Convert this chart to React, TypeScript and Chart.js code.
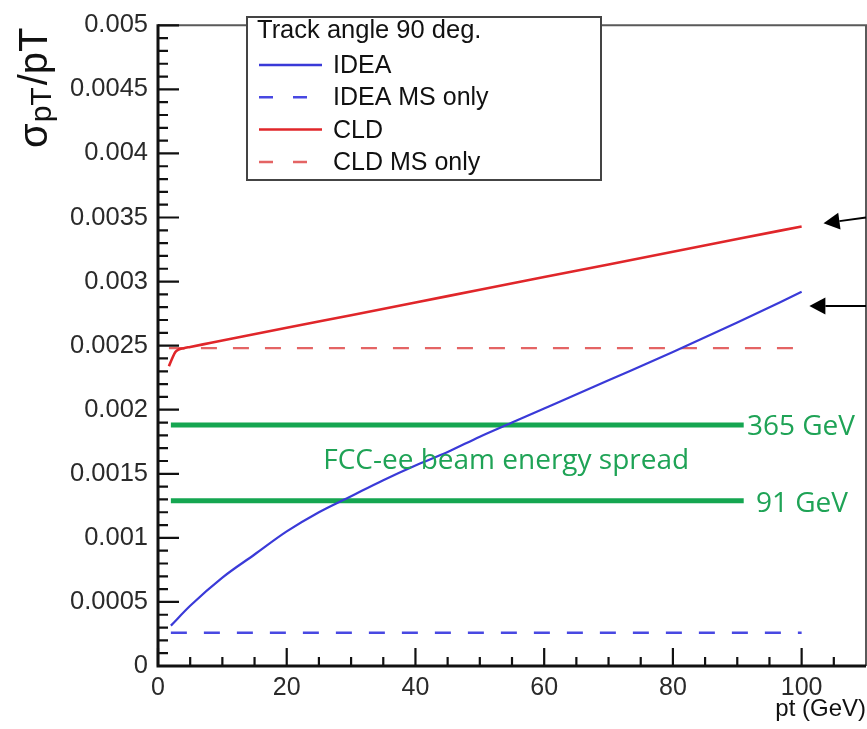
import React, { useEffect, useRef } from "react";
import { Chart, registerables } from "chart.js";

Chart.register(...registerables);

// ---------- data ----------
const ideaPt = [2, 5, 10, 15, 20, 25, 30, 35, 40, 45, 50, 55, 60, 70, 80, 90, 100];
const ideaSigma = [
  0.000315, 0.00047, 0.00069, 0.00087, 0.00105, 0.0012, 0.001325, 0.00145, 0.001565,
  0.00167, 0.00179, 0.0019, 0.00201, 0.00223, 0.00245, 0.00268, 0.00292,
];
const ideaMsPt = [2, 100];
const ideaMsSigma = [0.00026, 0.00026];

const cldPt = [1.7, 2.2, 2.7, 3.2, 4, 5, 7, 10, 20, 30, 40, 50, 60, 70, 80, 90, 100];
const cldSigma = [
  0.00234, 0.0024, 0.00245, 0.00247, 0.00248, 0.00249, 0.00251, 0.00254, 0.00264,
  0.002738, 0.002837, 0.002936, 0.003035, 0.003134, 0.003233, 0.003332, 0.00343,
];
const cldMsPt = [1.7, 100];
const cldMsSigma = [0.00248, 0.00248];

const beamPt = [2, 91];
const beam365 = [0.00188, 0.00188];
const beam91 = [0.00129, 0.00129];

const xTickValues = [0, 20, 40, 60, 80, 100];
const xTickLabels = ["0", "20", "40", "60", "80", "100"];
const yTickValues = [0, 0.0005, 0.001, 0.0015, 0.002, 0.0025, 0.003, 0.0035, 0.004, 0.0045, 0.005];
const yTickLabels = ["0", "0.0005", "0.001", "0.0015", "0.002", "0.0025", "0.003", "0.0035", "0.004", "0.0045", "0.005"];

const legendTitle = "Track angle 90 deg.";
const seriesNames = ["IDEA", "IDEA MS only", "CLD", "CLD MS only"];
const beamLabels = ["365 GeV", "91 GeV"];
const beamLabelPt = [91.5, 92.9];
const spreadText = "FCC-ee beam energy spread";
const spreadPos = { x: 54.1, y: 0.0016 };
const xTitle = "pt (GeV)";

// arrows pointing at the curve ends (data units)
const arrowTipPt = [103.4, 101.2];
const arrowTipSigma = [0.003455, 0.00281];
const arrowTailPt = [110, 110];
const arrowTailSigma = [0.0035, 0.00281];

const X_MIN = 0, X_MAX = 110, Y_MIN = 0, Y_MAX = 0.005;

const BLUE = "#3a3ad8";
const BLUE_D = "#4848e2";
const RED = "#e0262a";
const RED_D = "#e46464";
const GREEN = "#15a651";
const GREEN_T = "#1fa356";
const TICK_FONT = "'Liberation Sans', Arial, Helvetica, sans-serif";
const GREEN_FONT = "'Open Sans', 'Noto Sans', sans-serif";

const toXY = (xs: number[], ys: number[]) => xs.map((x, i) => ({ x, y: ys[i] }));

const decorPlugin = {
  id: "decor",
  afterDatasetsDraw(chart: any) {
    const { ctx, chartArea: a, scales } = chart;
    const xs = scales.x, ys = scales.y;
    ctx.save();

    // frame
    ctx.strokeStyle = "#5a5a5a";
    ctx.lineWidth = 2;
    ctx.beginPath();
    ctx.moveTo(a.left, a.top);
    ctx.lineTo(a.right, a.top);
    ctx.lineTo(a.right, a.bottom);
    ctx.stroke();
    ctx.strokeStyle = "#111";
    ctx.lineWidth = 3;
    ctx.beginPath();
    ctx.moveTo(a.left, a.top - 1);
    ctx.lineTo(a.left, a.bottom);
    ctx.lineTo(a.right, a.bottom);
    ctx.stroke();

    // inward ticks
    ctx.lineWidth = 2.2;
    ctx.strokeStyle = "#111";
    ctx.beginPath();
    for (let i = 0; i <= 50; i++) {
      const v = i * 0.0001;
      const py = ys.getPixelForValue(v);
      const len = i % 5 === 0 ? 21 : 10;
      ctx.moveTo(a.left, py);
      ctx.lineTo(a.left + len, py);
    }
    for (let i = 0; i <= 21; i++) {
      const v = i * 5;
      const px = xs.getPixelForValue(v);
      const len = i % 4 === 0 ? 18 : 9;
      ctx.moveTo(px, a.bottom);
      ctx.lineTo(px, a.bottom - len);
    }
    ctx.stroke();

    // beam spread labels
    ctx.fillStyle = GREEN_T;
    ctx.font = `28px ${GREEN_FONT}`;
    ctx.textBaseline = "middle";
    ctx.textAlign = "left";
    ctx.fillText(beamLabels[0], xs.getPixelForValue(beamLabelPt[0]), ys.getPixelForValue(beam365[0]) + 2);
    ctx.fillText(beamLabels[1], xs.getPixelForValue(beamLabelPt[1]), ys.getPixelForValue(beam91[0]) + 3);
    ctx.textAlign = "center";
    ctx.fillText(spreadText, xs.getPixelForValue(spreadPos.x), ys.getPixelForValue(spreadPos.y));

    // arrows
    ctx.strokeStyle = "#000";
    ctx.fillStyle = "#000";
    ctx.lineWidth = 2;
    for (let i = 0; i < arrowTipPt.length; i++) {
      const tx = xs.getPixelForValue(arrowTipPt[i]);
      const ty = ys.getPixelForValue(arrowTipSigma[i]);
      const sx = xs.getPixelForValue(arrowTailPt[i]);
      const sy = ys.getPixelForValue(arrowTailSigma[i]);
      const ang = Math.atan2(ty - sy, tx - sx);
      const hl = 16, hw = 8.5;
      const bx = tx - hl * Math.cos(ang), by = ty - hl * Math.sin(ang);
      ctx.beginPath();
      ctx.moveTo(sx, sy);
      ctx.lineTo(bx, by);
      ctx.stroke();
      ctx.beginPath();
      ctx.moveTo(tx, ty);
      ctx.lineTo(bx - hw * Math.sin(ang), by + hw * Math.cos(ang));
      ctx.lineTo(bx + hw * Math.sin(ang), by - hw * Math.cos(ang));
      ctx.closePath();
      ctx.fill();
    }

    // legend box
    const lx = 247, ly = 17, lw = 354, lh = 163;
    ctx.fillStyle = "#fff";
    ctx.fillRect(lx, ly, lw, lh);
    ctx.strokeStyle = "#444";
    ctx.lineWidth = 2;
    ctx.strokeRect(lx, ly, lw, lh);
    ctx.fillStyle = "#111";
    ctx.font = `25.5px ${TICK_FONT}`;
    ctx.textAlign = "left";
    ctx.textBaseline = "alphabetic";
    ctx.fillText(legendTitle, lx + 10, ly + 21);
    ctx.font = `25px ${TICK_FONT}`;
    const items = chart.data.datasets.filter((d: any) => d.inLegend);
    items.forEach((d: any, i: number) => {
      const yy = ly + 48 + i * 32.3;
      ctx.strokeStyle = d.borderColor;
      ctx.lineWidth = 2.5;
      ctx.setLineDash(d.borderDash && d.borderDash.length ? [14, 20] : []);
      ctx.beginPath();
      ctx.moveTo(lx + 12, yy);
      ctx.lineTo(lx + 75, yy);
      ctx.stroke();
      ctx.setLineDash([]);
      ctx.fillStyle = "#111";
      ctx.fillText(d.label, lx + 86, yy + 8);
    });

    ctx.restore();
  },
  afterDraw(chart: any) {
    const { ctx, chartArea: a } = chart;
    ctx.save();
    // x title
    ctx.fillStyle = "#111";
    ctx.font = `24px ${TICK_FONT}`;
    ctx.textAlign = "right";
    ctx.textBaseline = "alphabetic";
    ctx.fillText(xTitle, a.right, 716);

    // y title: sigma_pT / pT, rotated
    ctx.translate(47, 148);
    ctx.rotate(-Math.PI / 2);
    ctx.textAlign = "left";
    let cx = 0;
    ctx.font = `40px ${TICK_FONT}`;
    ctx.fillText("σ", cx, 0);
    cx += ctx.measureText("σ").width + 1;
    ctx.font = `30px ${TICK_FONT}`;
    ctx.fillText("pT", cx, 4);
    cx += ctx.measureText("pT").width + 2;
    ctx.font = `40px ${TICK_FONT}`;
    ctx.fillText("/pT", cx, 0);
    ctx.restore();
  },
};

export default function App() {
  const ref = useRef<HTMLCanvasElement | null>(null);

  useEffect(() => {
    document.body.style.margin = "0";
    const canvas = ref.current;
    if (!canvas) return;
    const line = (label: string, data: any, color: string, width: number, dash: number[], inLegend: boolean) => ({
      label,
      data,
      borderColor: color,
      backgroundColor: color,
      borderWidth: width,
      borderDash: dash,
      pointRadius: 0,
      fill: false,
      cubicInterpolationMode: "monotone",
      inLegend,
    });
    const chart = new Chart(canvas, {
      type: "line",
      data: {
        datasets: [
          line(seriesNames[0], toXY(ideaPt, ideaSigma), BLUE, 2.2, [], true),
          line(seriesNames[1], toXY(ideaMsPt, ideaMsSigma), BLUE_D, 2.4, [16, 17], true),
          line(seriesNames[2], toXY(cldPt, cldSigma), RED, 2.6, [], true),
          line(seriesNames[3], toXY(cldMsPt, cldMsSigma), RED_D, 2.2, [16, 16], true),
          line(beamLabels[0], toXY(beamPt, beam365), GREEN, 5, [], false),
          line(beamLabels[1], toXY(beamPt, beam91), GREEN, 5, [], false),
        ] as any,
      },
      options: {
        animation: false,
        responsive: true,
        maintainAspectRatio: false,
        layout: { padding: { top: 16, right: 1, left: 0, bottom: 0 } },
        plugins: { legend: { display: false }, tooltip: { enabled: false }, title: { display: false } },
        scales: {
          x: {
            type: "linear",
            min: X_MIN,
            max: X_MAX,
            grid: { display: false, drawTicks: false },
            border: { display: false },
            afterBuildTicks: (s: any) => {
              s.ticks = xTickValues.map((v) => ({ value: v }));
            },
            afterFit: (s: any) => {
              s.height = 63;
            },
            ticks: {
              autoSkip: false,
              maxRotation: 0,
              padding: 7,
              color: "#2a2a2a",
              font: { family: TICK_FONT, size: 25 },
              callback: (v: any) => xTickLabels[xTickValues.indexOf(v)],
            },
          },
          y: {
            type: "linear",
            min: Y_MIN,
            max: Y_MAX,
            grid: { display: false, drawTicks: false },
            border: { display: false },
            afterBuildTicks: (s: any) => {
              s.ticks = yTickValues.map((v) => ({ value: v }));
            },
            afterFit: (s: any) => {
              s.width = 158;
            },
            ticks: {
              autoSkip: false,
              padding: 10,
              color: "#2a2a2a",
              font: { family: TICK_FONT, size: 25.5 },
              callback: (v: any) => yTickLabels[yTickValues.indexOf(v)],
            },
          },
        },
      } as any,
      plugins: [decorPlugin],
    });
    return () => chart.destroy();
  }, []);

  return (
    <div style={{ width: 867, height: 729, position: "relative", background: "#fff" }}>
      <canvas ref={ref} />
    </div>
  );
}
